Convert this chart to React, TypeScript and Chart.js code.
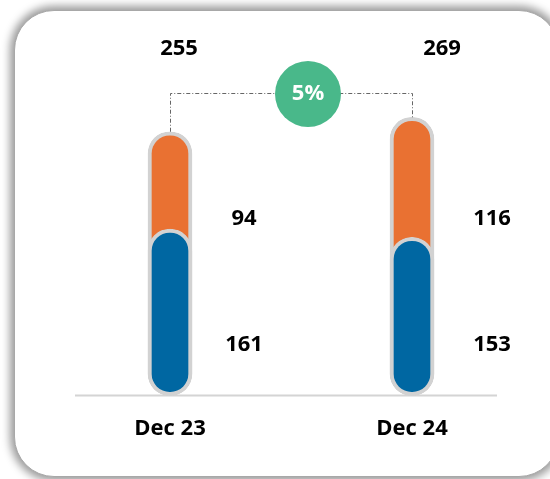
import React, { useEffect, useRef } from "react";
import { Chart, registerables } from "chart.js";

Chart.register(...registerables);

const categories = ["Dec 23", "Dec 24"];
const blueValues = [161, 153];
const orangeValues = [94, 116];
const totals = categories.map((_, i) => blueValues[i] + orangeValues[i]);

const FONT = "'Open Sans', Lato, sans-serif";

const capsulePlugin = {
  id: "capsuleLabels",
  beforeDatasetsDraw(chart: any) {
    const { ctx, chartArea } = chart;
    const xs = chart.scales.x;
    const x0 = xs.getPixelForValue(0);
    const x1 = xs.getPixelForValue(1);
    ctx.save();
    ctx.strokeStyle = "#d4d4d4";
    ctx.lineWidth = 2;
    ctx.beginPath();
    ctx.moveTo(x0 - 95, chartArea.bottom);
    ctx.lineTo(x1 + 85, chartArea.bottom);
    ctx.stroke();
    ctx.restore();
  },
  afterDatasetsDraw(chart: any) {
    const { ctx, chartArea } = chart;
    const xs = chart.scales.x;
    const ys = chart.scales.y;
    const totalOffsets = [9, 30];
    const sideOffsets = [74, 80];
    ctx.save();
    ctx.fillStyle = "#000";
    ctx.font = `bold 22px ${FONT}`;
    ctx.textAlign = "center";
    ctx.textBaseline = "middle";
    categories.forEach((_, i) => {
      const cx = xs.getPixelForValue(i);
      ctx.fillText(String(totals[i]), cx + totalOffsets[i], chartArea.top + 29);
      ctx.fillText(String(orangeValues[i]), cx + sideOffsets[i], ys.getPixelForValue(171));
      ctx.fillText(String(blueValues[i]), cx + sideOffsets[i], ys.getPixelForValue(49.5));
    });

    // connector
    const x0 = xs.getPixelForValue(0);
    const x1 = xs.getPixelForValue(1);
    const yc = chartArea.top + 73;
    ctx.strokeStyle = "#666";
    ctx.lineWidth = 1;
    ctx.setLineDash([4, 2, 1, 2]);
    ctx.beginPath();
    ctx.moveTo(x0 + 0.5, ys.getPixelForValue(totals[0]));
    ctx.lineTo(x0 + 0.5, yc + 0.5);
    ctx.lineTo(x1 + 0.5, yc + 0.5);
    ctx.lineTo(x1 + 0.5, ys.getPixelForValue(totals[1]));
    ctx.stroke();
    ctx.setLineDash([]);

    const pct = Math.round(((totals[1] - totals[0]) / totals[0]) * 100);
    const bx = (x0 + x1) / 2 + 17;
    const by = yc + 1;
    ctx.fillStyle = "#49b88a";
    ctx.beginPath();
    ctx.arc(bx, by, 33, 0, Math.PI * 2);
    ctx.fill();
    ctx.fillStyle = "#fff";
    ctx.font = `bold 22px ${FONT}`;
    ctx.fillText(`${pct}%`, bx, by);
    ctx.restore();
  },
};

export default function App() {
  const ref = useRef<HTMLCanvasElement>(null);
  useEffect(() => {
    if (!ref.current) return;
    const chart = new Chart(ref.current, {
      type: "bar",
      data: {
        labels: categories,
        datasets: [
          {
            label: "Blue",
            data: blueValues,
            backgroundColor: "#0067a2",
            borderColor: "#d2d2d2",
            borderWidth: 4,
            borderRadius: 22,
            borderSkipped: false,
            barThickness: 44,
            grouped: false,
            order: 0,
          } as any,
          {
            label: "Orange",
            data: totals,
            backgroundColor: "#e97132",
            borderColor: "#d2d2d2",
            borderWidth: 4,
            borderRadius: 22,
            borderSkipped: false,
            barThickness: 44,
            grouped: false,
            order: 1,
          } as any,
        ],
      },
      options: {
        animation: false,
        responsive: false,
        maintainAspectRatio: false,
        layout: { padding: { left: 49, right: 17, top: 20, bottom: 17 } },
        plugins: { legend: { display: false }, tooltip: { enabled: false } },
        scales: {
          x: {
            grid: { display: false, drawTicks: false },
            border: { display: false },
            ticks: {
              color: "#000",
              font: { family: FONT, size: 22, weight: "bold" },
              padding: 20,
            },
          },
          y: { display: false, min: 0, max: 363 },
        },
      },
      plugins: [capsulePlugin],
    });
    return () => chart.destroy();
  }, []);

  return (
    <div
      style={{
        position: "fixed",
        left: 0,
        top: 0,
        width: 550,
        height: 479,
        overflow: "hidden",
        background: "#fff",
      }}
    >
      <div
        style={{
          position: "absolute",
          left: 14,
          top: 10,
          width: 545,
          height: 467,
          borderRadius: 40,
          background: "#fff",
          border: "1px solid #a8a8a8",
          boxShadow: "0 0 9px 4px rgba(0,0,0,0.4)",
          boxSizing: "border-box",
        }}
      />
      <canvas
        ref={ref}
        width={550}
        height={479}
        style={{ position: "absolute", left: 0, top: 0 }}
      />
    </div>
  );
}
